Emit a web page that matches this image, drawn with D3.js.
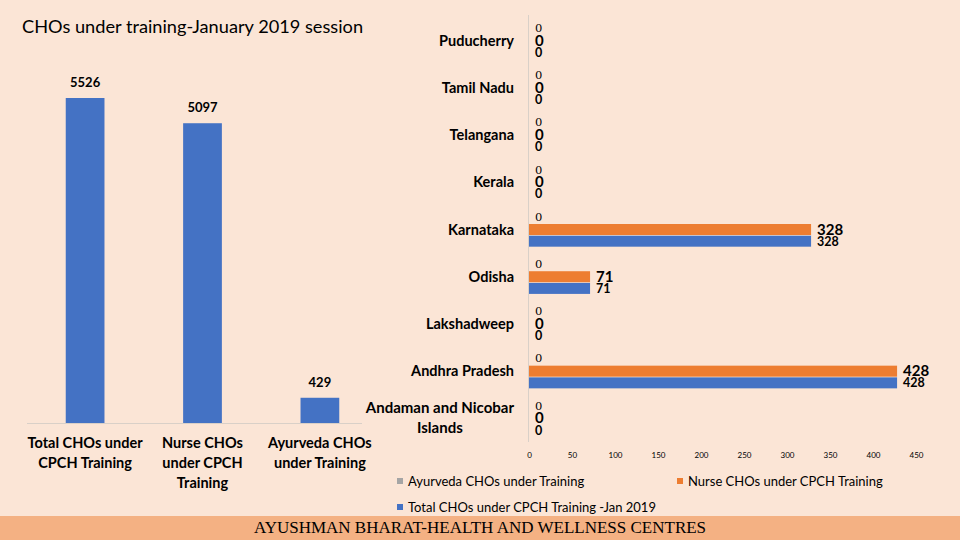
<!DOCTYPE html>
<html><head><meta charset="utf-8">
<script src="https://cdn.jsdelivr.net/npm/d3@7/dist/d3.min.js"></script>
<style>
html,body{margin:0;padding:0;background:#fbe5d6;}
svg{display:block;}
text{font-family:Lato,"Open Sans",sans-serif;fill:#000;}
</style></head>
<body>
<svg id="c" width="960" height="540"></svg>
<script>
// Left chart data
const summaryCategories = [["Total CHOs under","CPCH Training"],["Nurse CHOs","under CPCH","Training"],["Ayurveda CHOs","under Training"]];
const summaryValues = [5526, 5097, 429];

// Right chart data (top to bottom)
const states = ["Puducherry","Tamil Nadu","Telangana","Kerala","Karnataka","Odisha","Lakshadweep","Andhra Pradesh","Andaman and Nicobar Islands"];
const ayurvedaValues = [0,0,0,0,0,0,0,0,0];
const nurseValues = [0,0,0,0,328,71,0,428,0];
const totalValues = [0,0,0,0,328,71,0,428,0];
const xTicks = [0,50,100,150,200,250,300,350,400,450];
const seriesNames = ["Ayurveda CHOs under Training","Nurse CHOs  under CPCH Training","Total CHOs under CPCH Training -Jan 2019"];

const svg = d3.select("#c");
svg.append("rect").attr("width",960).attr("height",540).attr("fill","#fbe5d6");

// Title
svg.append("text").attr("x",22).attr("y",33).attr("font-size",18.2).text("CHOs under training-January 2019 session");

// Left chart
const lx = d3.scaleBand().domain(d3.range(3)).range([27,378]).paddingInner(0.67).paddingOuter(0.33);
const ly = d3.scaleLinear().domain([0,5526]).range([423,98]);
svg.append("line").attr("x1",27).attr("x2",362).attr("y1",423.5).attr("y2",423.5).attr("stroke","#d9d0c8").attr("stroke-width",1);
const lg = svg.append("g");
lg.selectAll("rect").data(summaryValues).join("rect")
  .attr("x",(d,i)=>lx(i)).attr("width",lx.bandwidth())
  .attr("y",d=>ly(d)).attr("height",d=>ly(0)-ly(d)).attr("fill","#4472c4");
lg.selectAll("text.v").data(summaryValues).join("text").attr("class","v")
  .attr("x",(d,i)=>lx(i)+lx.bandwidth()/2).attr("y",d=>ly(d)-11)
  .attr("text-anchor","middle").attr("font-size",13).attr("font-weight","bold").text(d=>d);
summaryCategories.forEach((lines,i)=>{
  const t = lg.append("text").attr("text-anchor","middle").attr("font-size",14.5).attr("font-weight","bold");
  lines.forEach((l,j)=>t.append("tspan").attr("x",lx(i)+lx.bandwidth()/2).attr("y",448+j*20).text(l));
});

// Right chart
const rx = d3.scaleLinear().domain([0,450]).range([529,916]);
const ry = d3.scaleBand().domain(states).range([17,442]);
const sub = d3.scaleBand().domain([0,1,2]).range([0,ry.bandwidth()]).paddingInner(0.06).paddingOuter(0.55);
svg.append("line").attr("x1",528.5).attr("x2",528.5).attr("y1",15).attr("y2",442).attr("stroke","#d9d0c8");
const colors = ["#a5a5a5","#ed7d31","#4472c4"];
const series = [ayurvedaValues,nurseValues,totalValues];
const rg = svg.append("g");
series.forEach((vals,s)=>{
  rg.append("g").selectAll("rect").data(vals).join("rect")
    .attr("x",rx(0)).attr("y",(d,i)=>ry(states[i])+sub(s))
    .attr("width",d=>rx(d)-rx(0)).attr("height",sub.bandwidth()).attr("fill",colors[s]);
});
// value labels
const labelStyles = [
  {size:11.5, weight:"normal", family:"'DejaVu Serif',serif", dy:3},
  {size:15, weight:"bold", family:"Lato,sans-serif", dy:5},
  {size:12.5, weight:"bold", family:"Lato,sans-serif", dy:4.5}
];
series.forEach((vals,s)=>{
  const st = labelStyles[s];
  rg.append("g").selectAll("text").data(vals).join("text")
    .attr("x",d=>rx(d)+6).attr("y",(d,i)=>ry(states[i])+sub(s)+sub.bandwidth()/2+st.dy)
    .attr("font-size",st.size).attr("font-weight",st.weight).style("font-family",st.family).text(d=>d);
});
// category labels
states.forEach(s=>{
  const cy = ry(s)+ry.bandwidth()/2;
  if (s==="Andaman and Nicobar Islands"){
    const t = rg.append("text").attr("font-size",15).attr("font-weight","bold").attr("text-anchor","end")
      .attr("x",514).attr("y",cy-5).text("Andaman and Nicobar");
    const w = t.node().getComputedTextLength();
    rg.append("text").attr("font-size",15).attr("font-weight","bold").attr("text-anchor","middle")
      .attr("x",514-w/2).attr("y",cy+15).text("Islands");
  } else {
    rg.append("text").attr("font-size",14.5).attr("font-weight","bold").attr("text-anchor","end")
      .attr("x",514).attr("y",cy+5).text(s);
  }
});
// x axis tick labels
const ax = svg.append("g").attr("transform","translate(0,442)")
  .call(d3.axisBottom(rx).tickValues(xTicks).tickSize(0).tickPadding(10));
ax.select(".domain").remove();
ax.selectAll("text").attr("font-size",8).style("font-family","Lato,sans-serif").attr("fill","#595959");

// Legend
const legendPos = [[400,481],[680,481],[400,507]];
seriesNames.forEach((n,i)=>{
  const [x,y] = legendPos[i];
  svg.append("rect").attr("x",x-3).attr("y",y-3).attr("width",6).attr("height",6).attr("fill",colors[i]);
  svg.append("text").attr("x",x+8).attr("y",y+5).attr("font-size",13).style("font-family","Lato,sans-serif").text(n);
});

// Footer
svg.append("rect").attr("x",0).attr("y",516).attr("width",960).attr("height",24).attr("fill","#f4b183");
svg.append("text").attr("x",480).attr("y",533).attr("text-anchor","middle").attr("font-size",17)
  .style("font-family","'Liberation Serif','Times New Roman',serif").text("AYUSHMAN BHARAT-HEALTH AND WELLNESS CENTRES");
</script>
</body></html>
